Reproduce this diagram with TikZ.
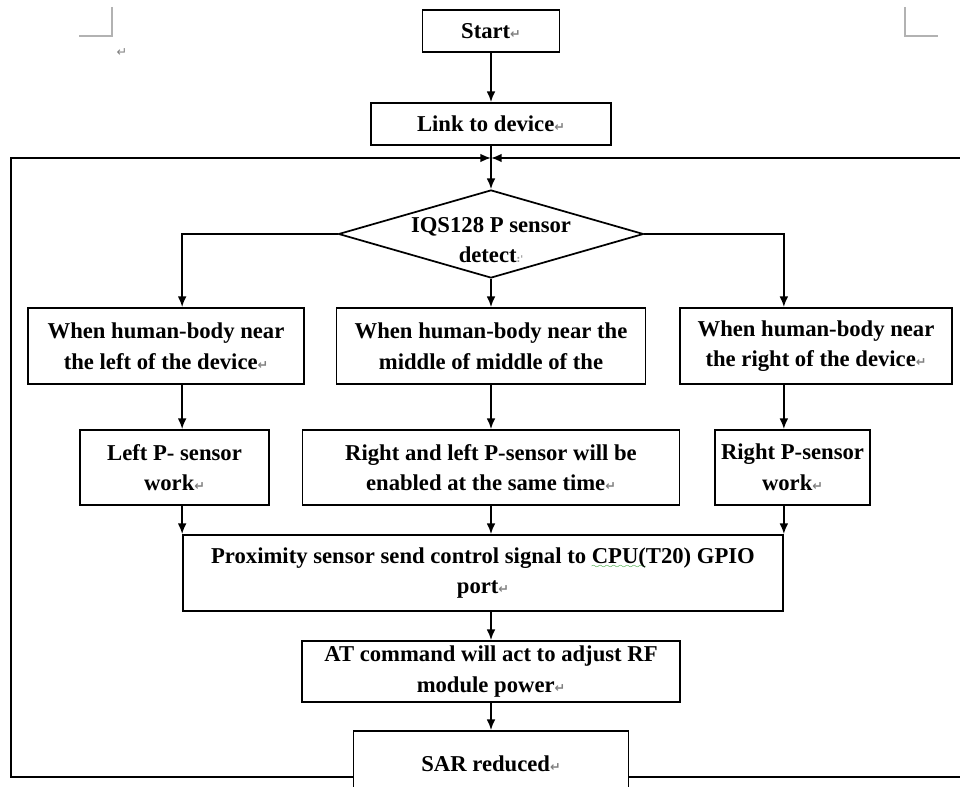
\documentclass[tikz,border=0pt]{standalone}
\usepackage{fontspec}
\setmainfont{Liberation Serif}
\newfontfamily\pmfont{DejaVu Sans}
\usetikzlibrary{shapes.geometric}
\usetikzlibrary{arrows.meta}
\usetikzlibrary{positioning}

\font\wavefont=lasy6
\newsavebox{\wavebox}
\newcommand{\spellwave}[1]{\sbox{\wavebox}{#1}\leavevmode\rlap{\lower4pt\hbox to\wd\wavebox{\color{green!55!black}\xleaders\hbox{\wavefont\char58}\hfil}}#1}
\newcommand{\pmk}{{\pmfont\fontsize{9.5}{9.5}\selectfont\textcolor{black!50}{↵}}}

\begin{document}
\begin{tikzpicture}[x=0.75pt, y=-0.75pt,
  box/.style={draw, line width=1.3pt, inner sep=0pt, align=center,
    font=\bfseries\fontsize{17}{23}\selectfont},
  decision/.style={draw, diamond, line width=1.3pt, inner sep=0pt},
  flow/.style={line width=1.3pt, -{Latex[length=8pt,width=6.5pt]}},
  cornermark/.style={draw=black!30, line width=1pt}]
\clip (0,0) rectangle (960,787);

% Page corner marks
\draw[cornermark] (112,7) -- (112,36) -- (79,36);
\draw[cornermark] (905,7) -- (905,36) -- (938,36);
\node[inner sep=0pt] (emptypar) at (122,53) {\pmk};

% Define nodes
\node[box, minimum width=102.75pt, minimum height=31.5pt] (start) at (491,31) {Start\pmk};
\node[box, minimum width=180pt, minimum height=31.5pt] (link) at (491,124) {Link to device\pmk};
\node[decision, minimum width=228.75pt, minimum height=66pt] (detect) at (491,234) {};
\node[box, draw=none] (detecttext) at (491,240) {IQS128 P sensor\\detect{\pmfont\fontsize{7}{7}\selectfont\textcolor{black!40}{:'}}};

\node[box, minimum width=207pt, minimum height=57pt] (left1) at (166,346) {When human-body near\\the left of the device\pmk};
\node[box, minimum width=231.75pt, minimum height=57pt] (mid1) at (491,346) {When human-body near the\\middle of middle of the};
\node[box, minimum width=204pt, minimum height=57pt] (right1) at (816,346) {When human-body near\\the right of the device\pmk};

\node[box, minimum width=141.75pt, minimum height=56.25pt] (left2) at (174.5,467.5) {Left P- sensor\\work\pmk};
\node[box, minimum width=282.75pt, minimum height=56.25pt] (mid2) at (491,467.5) {Right and left P-sensor will be\\enabled at the same time\pmk};
\node[box, minimum width=116.25pt, minimum height=56.25pt] (right2) at (792.5,467.5) {Right P-sensor\\work\pmk};

\node[box, minimum width=450pt, minimum height=57pt] (prox) at (483,573) {Proximity sensor send control signal to \spellwave{CPU(}T20) GPIO\\port\pmk};
\node[box, minimum width=283.5pt, minimum height=45.75pt] (at) at (491,671.5) {AT command will act to adjust RF\\module power\pmk};
\node[box, minimum width=206.25pt, minimum height=49.5pt] (sar) at (491,764) {SAR reduced\pmk};

\coordinate (loopBL) at (11,777);
\coordinate (loopTL) at (11,158);
\coordinate (loopBR) at (985,777);
\coordinate (loopTR) at (985,158);

% Edges
\draw[flow] (start) -- (link);
\draw[flow] (link) -- (detect);
\draw[flow] (detect.west) -| (left1.north -| prox.west);
\draw[flow] (detect) -- (mid1);
\draw[flow] (detect.east) -| (right1.north -| prox.east);
\draw[flow] (left1.south -| prox.west) -- (left2.north -| prox.west);
\draw[flow] (mid1) -- (mid2);
\draw[flow] (right1.south -| prox.east) -- (right2.north -| prox.east);
\draw[flow] (left2.south -| prox.west) -- (prox.north west);
\draw[flow] (mid2) -- (prox.north -| mid2);
\draw[flow] (right2.south -| prox.east) -- (prox.north east);
\draw[flow] (prox.south -| at) -- (at);
\draw[flow] (at) -- (sar);
\draw[flow] (sar.west |- loopBL) -- (loopBL) -- (loopTL) -- (link.south |- loopTL);
\draw[flow] (sar.east |- loopBR) -- (loopBR) -- (loopTR) -- (link.south |- loopTR);
\end{tikzpicture}
\end{document}
